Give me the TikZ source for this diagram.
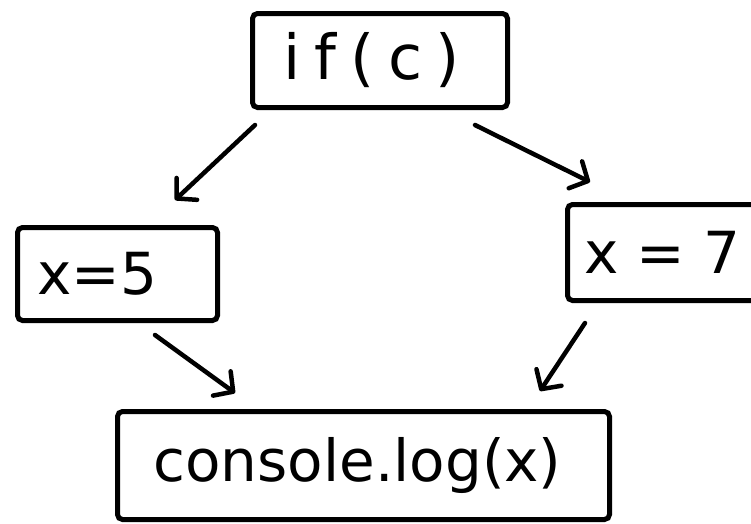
\documentclass[tikz,border=0pt]{standalone}
\usepackage{fontspec}
\setmainfont{DejaVu Sans}
\usetikzlibrary{arrows.meta}
\begin{document}
\begin{tikzpicture}[x=1pt,y=-1pt,
  box/.style={draw, line width=5pt, rounded corners=5pt, inner sep=0pt,
    anchor=north west, font=\fontsize{58}{58}\selectfont},
  wide/.style={font=\fontsize{62}{62}\selectfont\addfontfeatures{LetterSpace=22}},
  arr/.style={line width=4.5pt, line cap=round,
    -{Straight Barb[length=14pt,width=30pt,round]}}]
\useasboundingbox (0,0) rectangle (751,523);
\begin{scope}
\clip (0,0) rectangle (751,523);
% condition
\node[box, wide, minimum width=255pt, minimum height=94pt] (cond) at (250,11) {if(c)\kern16pt};
% the two branches
\node[box, minimum width=200pt, minimum height=93pt] (five) at (15,225) {x=5\kern40pt};
\node[box, minimum width=240pt, minimum height=96pt] (seven) at (565,202) {x = 7\kern50pt};
% join
\node[box, minimum width=492pt, minimum height=108pt] (join) at (115,409) {\raisebox{-8pt}{console.log(x)}\kern12pt};
\end{scope}
% control flow
\draw[arr] ([shift={(5,15)}]cond.south west) -- ([shift={(160,-25)}]five.north west);
\draw[arr] ([shift={(-35,15)}]cond.south east) -- ([shift={(25,-20)}]seven.north west);
\draw[arr] ([shift={(140,12)}]five.south west) -- ([shift={(120,-16)}]join.north west);
\draw[arr] ([shift={(20,20)}]seven.south west) -- ([shift={(-72,-18)}]join.north east);
\end{tikzpicture}
\end{document}
